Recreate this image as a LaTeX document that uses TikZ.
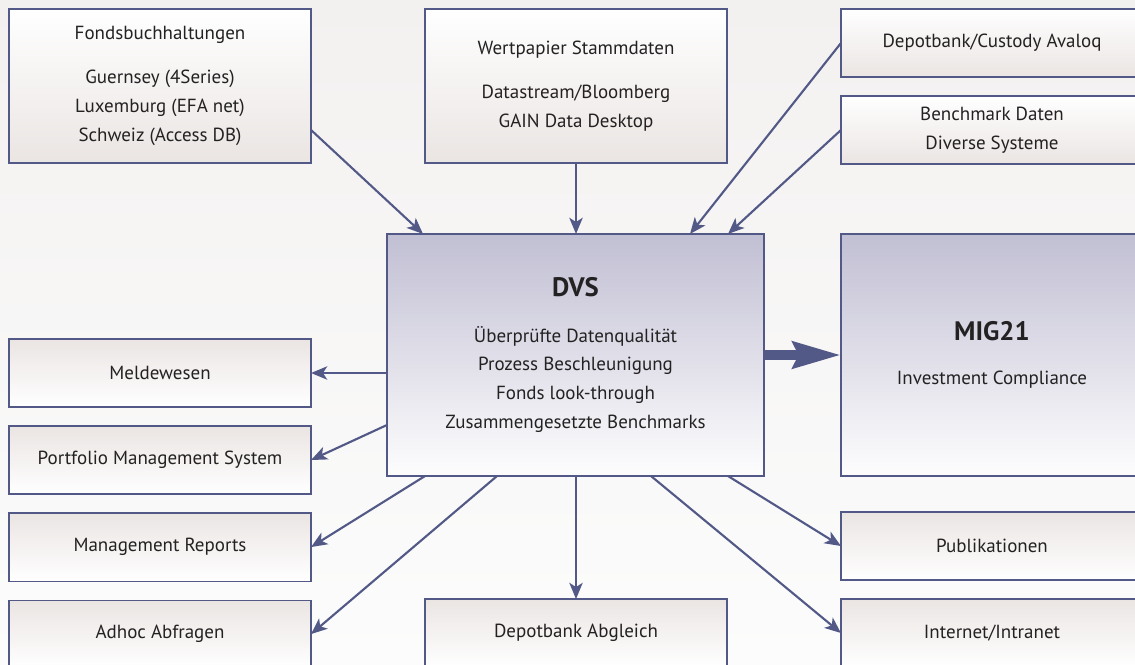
\documentclass[tikz,border=0pt]{standalone}
\usepackage{fontspec}
\setmainfont{PT Sans}
\usepackage{tikz}
\usetikzlibrary{arrows.meta}
\usetikzlibrary{positioning}

\definecolor{rahmen}{RGB}{82,89,135}
\definecolor{hellgrau}{RGB}{234,229,227}
\definecolor{lila}{RGB}{193,191,211}
\definecolor{hgoben}{RGB}{243,241,240}
\definecolor{hgunten}{RGB}{252,252,252}
\definecolor{schrift}{RGB}{35,33,33}

\tikzset{
  kasten/.style={draw=rahmen, line width=0.8pt, inner sep=0pt, outer sep=0pt,
    minimum width=7.55cm, align=center, text=schrift,
    font=\fontsize{13.5}{20.5}\selectfont},
  oben/.style={kasten, top color=white, bottom color=hellgrau},
  unten/.style={kasten, top color=hellgrau, bottom color=white, minimum height=1.7cm},
  zentral/.style={kasten, top color=lila, bottom color=white!97!lila, minimum height=6.05cm},
  pfeil/.style={draw=rahmen, line width=1.5pt, -{Stealth[length=11.5pt, width=9.5pt, inset=3pt]}}
}

\begin{document}
\begin{tikzpicture}[x=0.025cm, y=-0.025cm, node distance=0.475cm]
\useasboundingbox (0,0) rectangle (1135,664);
\clip (0,0) rectangle (1135,664);
\shade[top color=hgoben, bottom color=hgunten] (0,0) rectangle (1135,664);

\node[oben, minimum height=3.85cm] (Fondsbuchhaltung) at (160,86) {Fondsbuchhaltungen\\[11pt]Guernsey (4Series)\\Luxemburg (EFA net)\\Schweiz (Access DB)};
\node[oben, minimum height=3.85cm] (Stammdaten) at (576,86) {Wertpapier Stammdaten\\[11pt]Datastream/Bloomberg\\GAIN Data Desktop};
\node[oben, minimum height=1.7cm] (Custody) at (992,43) {Depotbank/Custody Avaloq};
\node[oben, minimum height=1.7cm, below=0.475cm of Custody] (Benchmark) {Benchmark Daten\\Diverse Systeme};

\node[zentral, minimum width=9.425cm] (DVS) at (575.5,355) {{\fontsize{19}{20}\selectfont\bfseries DVS}\\[12pt]Überprüfte Datenqualität\\Prozess Beschleunigung\\Fonds look-through\\Zusammengesetzte Benchmarks};
\node[zentral] (MIG) at (992,355) {{\fontsize{19}{20}\selectfont\bfseries MIG21}\\[11pt]Investment Compliance};

\node[unten] (Meldewesen) at (160,373) {Meldewesen};
\node[unten, below=of Meldewesen] (PMS) {Portfolio Management System};
\node[unten, below=of PMS] (Reports) {Management Reports};
\node[unten, below=of Reports] (Adhoc) {Adhoc Abfragen};
\node[unten] (Abgleich) at (576,633) {Depotbank Abgleich};
\node[unten] (Publikationen) at (992,546) {Publikationen};
\node[unten, below=of Publikationen] (Internet) {Internet/Intranet};

\draw[pfeil] (Fondsbuchhaltung.east |- 0,130) -- (DVS.north -| 423,0);
\draw[pfeil] (Stammdaten.south) -- (Stammdaten.south |- DVS.north);
\draw[pfeil] (Custody.west) -- (DVS.north -| 690,0);
\draw[pfeil] (Benchmark.west) -- (DVS.north -| 728,0);

\draw[pfeil] (DVS.west |- Meldewesen.east) -- (Meldewesen.east);
\draw[pfeil] (DVS.west |- 0,425) -- (PMS.east);
\draw[pfeil] (DVS.south -| 425,0) -- (Reports.east);
\draw[pfeil] (DVS.south -| 497,0) -- (Adhoc.east);
\draw[pfeil] (DVS.south -| Abgleich.north) -- (Abgleich.north);
\draw[pfeil] (DVS.south -| 728,0) -- (Publikationen.west);
\draw[pfeil] (DVS.south -| 651,0) -- (Internet.west);

\draw[draw=rahmen, line width=7pt, -{Stealth[length=34pt, width=18.5pt, inset=4pt]}] (DVS.east) -- (MIG.west);
\end{tikzpicture}
\end{document}
